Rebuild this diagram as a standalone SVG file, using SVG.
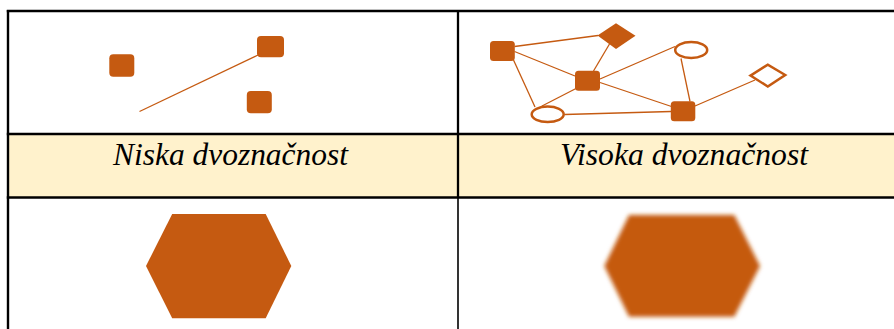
<svg xmlns="http://www.w3.org/2000/svg" width="894" height="329" viewBox="0 0 894 329">
  <style>
    .grid { stroke: #000; fill: none; }
    .node { fill: #C55A11; }
    .hollow { fill: #fff; stroke: #C55A11; stroke-width: 2.5; }
    .edge { stroke: #C55A11; stroke-width: 1.3; fill: none; }
  </style>
  <defs>
    <filter id="blur" x="-20%" y="-20%" width="140%" height="140%">
      <feGaussianBlur stdDeviation="2"/>
    </filter>
  </defs>
  <rect x="0" y="0" width="894" height="329" fill="#fff"/>

  <g id="table">
    <rect x="8" y="134" width="886" height="63.5" fill="#FFF2CC"/>
    <line class="grid" x1="6.8" y1="11" x2="894" y2="11" stroke-width="2.4"/>
    <line class="grid" x1="6.8" y1="134" x2="894" y2="134" stroke-width="2.6"/>
    <line class="grid" x1="6.8" y1="197.5" x2="894" y2="197.5" stroke-width="2.6"/>
    <line class="grid" x1="8" y1="10" x2="8" y2="329" stroke-width="2.4"/>
    <line class="grid" x1="458" y1="10" x2="458" y2="198" stroke-width="2.3"/>
    <line class="grid" x1="458" y1="198" x2="458" y2="329" stroke-width="1.6"/>
  </g>

  <g id="label-low">
    <text x="113" y="164.5" font-family="Liberation Serif, serif" font-style="italic" font-size="32.5" fill="#000" textLength="235" lengthAdjust="spacingAndGlyphs">Niska dvoznačnost</text>
  </g>
  <g id="label-high">
    <text x="560" y="164.5" font-family="Liberation Serif, serif" font-style="italic" font-size="32.5" fill="#000" textLength="248" lengthAdjust="spacingAndGlyphs">Visoka dvoznačnost</text>
  </g>

  <g id="connectors">
    <line class="edge" x1="139.5" y1="111.5" x2="258" y2="55"/>
    <line class="edge" x1="514.5" y1="46.5" x2="598" y2="35.5"/>
    <line class="edge" x1="514.5" y1="51.5" x2="575" y2="76"/>
    <line class="edge" x1="609.5" y1="44" x2="593.5" y2="71"/>
    <line class="edge" x1="513.5" y1="60" x2="535" y2="107"/>
    <line class="edge" x1="576" y1="88.5" x2="542" y2="106"/>
    <line class="edge" x1="600" y1="79" x2="675" y2="46.5"/>
    <line class="edge" x1="600" y1="82.5" x2="671.5" y2="106.5"/>
    <line class="edge" x1="681" y1="58.5" x2="690" y2="101.5"/>
    <line class="edge" x1="564.5" y1="114.5" x2="671" y2="111.5"/>
    <line class="edge" x1="695" y1="106" x2="755" y2="80"/>
  </g>

  <g id="low-a"><rect class="node" x="109.3" y="54.3" width="25" height="22.5" rx="4"/></g>
  <g id="low-b"><rect class="node" x="257" y="36" width="27" height="21.3" rx="4"/></g>
  <g id="low-c"><rect class="node" x="246.8" y="91" width="25" height="22.3" rx="4"/></g>

  <g id="high-s1"><rect class="node" x="490" y="41" width="24.8" height="20" rx="3.5"/></g>
  <g id="high-d1"><polygon class="node" points="597.5,35.5 616,23.3 635.5,35.7 616,49"/></g>
  <g id="high-s2"><rect class="node" x="575" y="70.7" width="25" height="20" rx="3.5"/></g>
  <g id="high-e1"><ellipse class="hollow" cx="691.2" cy="50" rx="16" ry="8"/></g>
  <g id="high-e2"><ellipse class="hollow" cx="547.7" cy="114.3" rx="16" ry="7.8"/></g>
  <g id="high-s3"><rect class="node" x="670.8" y="101.3" width="24.5" height="20" rx="3.5"/></g>
  <g id="high-d2"><polygon class="hollow" points="750.5,75.6 767.8,64.6 785.2,75 767.8,86.5"/></g>

  <g id="hex-sharp">
    <polygon class="node" points="172.2,214 265.7,214 291.3,266 265.7,318.3 172.2,318.3 146,266"/>
  </g>
  <g id="hex-blurred">
    <polygon class="node" filter="url(#blur)" points="629,215 734.3,215 760,266 734.3,316.7 629,316.7 604.3,266"/>
  </g>
</svg>
